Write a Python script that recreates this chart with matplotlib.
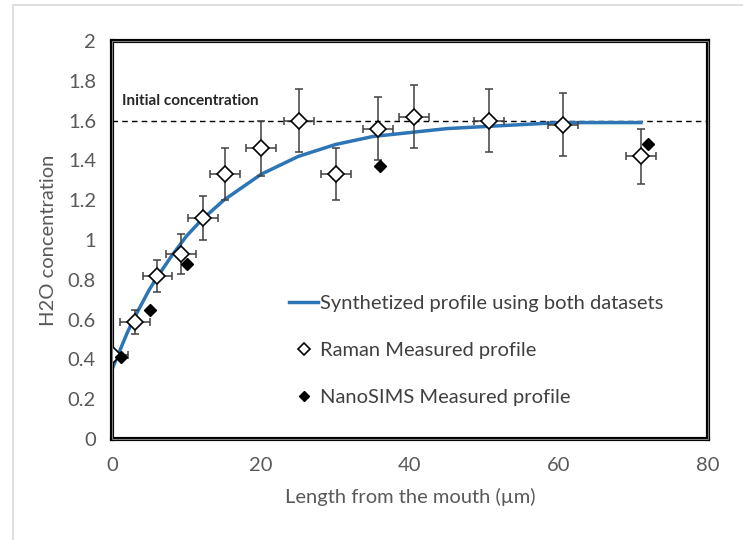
import matplotlib
matplotlib.use("Agg")
import matplotlib.pyplot as plt
from matplotlib.patches import Rectangle
from matplotlib.lines import Line2D

plt.rcParams['font.family'] = ['Lato', 'DejaVu Sans']

# Raman measured profile (open diamonds) with error bars
raman_x = [0.2, 3.1, 6.1, 9.3, 12.2, 15.2, 20.0, 25.1, 30.1, 35.7, 40.5, 50.6, 60.5, 71.0]
raman_y = [0.42, 0.59, 0.82, 0.93, 1.11, 1.33, 1.46, 1.60, 1.33, 1.56, 1.62, 1.60, 1.58, 1.42]
raman_xerr = [2.0, 2.0, 2.0, 2.0, 2.0, 2.0, 2.0, 2.0, 2.0, 2.0, 2.0, 2.0, 2.0, 2.0]
raman_yerr = [0.02, 0.06, 0.08, 0.10, 0.11, 0.13, 0.14, 0.16, 0.13, 0.16, 0.16, 0.16, 0.16, 0.14]

# NanoSIMS measured profile (filled diamonds)
sims_x = [1.2, 5.1, 10.0, 36.0, 71.9]
sims_y = [0.41, 0.65, 0.88, 1.37, 1.48]

# Synthesized diffusion profile
synth_x = [0, 1, 2, 3, 4, 5, 6, 8, 10, 12, 15, 20, 25, 30, 35, 40, 45, 50, 55, 60, 65, 71]
synth_y = [0.35, 0.44, 0.53, 0.61, 0.68, 0.75, 0.81, 0.92, 1.02, 1.10, 1.20, 1.33, 1.42, 1.48, 1.52,
           1.54, 1.56, 1.57, 1.58, 1.59, 1.59, 1.59]

initial_conc = 1.6

x_ticks = [0, 20, 40, 60, 80]
y_ticks = [0, 0.2, 0.4, 0.6, 0.8, 1.0, 1.2, 1.4, 1.6, 1.8, 2.0]
y_tick_labels = ['0', '0.2', '0.4', '0.6', '0.8', '1', '1.2', '1.4', '1.6', '1.8', '2']

W, H = 743, 540
fig = plt.figure(figsize=(W / 100, H / 100), dpi=100)
fig.patch.set_facecolor('white')

# light chart-area border
fig.add_artist(Rectangle((13 / W, -0.05), 1.2, 1 - 5 / H + 0.05, transform=fig.transFigure,
                         fill=False, edgecolor='#d9d9d9', linewidth=1.2))

ax = fig.add_axes([112 / W, 1 - 439 / H, (708 - 112) / W, (439 - 41) / H])

text_gray = '#595959'

ax.axhline(initial_conc, color='black', linestyle=(0, (4, 3)), linewidth=1.0, zorder=1)
ax.text(1.4, 1.70, 'Initial concentration', fontsize=11, fontweight='bold',
        color='#262626', va='center', ha='left')

ax.plot(synth_x, synth_y, color='#2e75b6', linewidth=2.5, zorder=2)

ax.errorbar(raman_x, raman_y, xerr=raman_xerr, yerr=raman_yerr, fmt='none',
            ecolor='#404040', elinewidth=1.1, capsize=3, capthick=1.1, zorder=3)
ax.plot(raman_x, raman_y, linestyle='none', marker='D', markersize=8.5,
        markerfacecolor='white', markeredgecolor='black', markeredgewidth=1.2, zorder=4)
ax.plot(sims_x, sims_y, linestyle='none', marker='D', markersize=6.5,
        markerfacecolor='black', markeredgecolor='black', zorder=5)

ax.set_xlim(0, 80)
ax.set_ylim(0, 2)
ax.set_xticks(x_ticks)
ax.set_yticks(y_ticks)
ax.set_yticklabels(y_tick_labels)
ax.tick_params(length=0, labelsize=14.5, colors=text_gray)
ax.tick_params(axis='y', pad=11.5)
ax.tick_params(axis='x', pad=13)

# double-line plot frame: heavy black outer edge with a thin gray inner rule
for s in ax.spines.values():
    s.set_linewidth(3)
    s.set_color('black')
ax.add_patch(Rectangle((0, 0), 1, 1, transform=ax.transAxes, fill=False,
                       edgecolor='#7f7f7f', linewidth=0.8, zorder=6, clip_on=False))

ax.set_xlabel('Length from the mouth (µm)', fontsize=14.5, color=text_gray, labelpad=10)
ax.set_ylabel('H2O concentration', fontsize=14.5, color=text_gray, labelpad=8)

handles = [
    Line2D([], [], color='#2e75b6', linewidth=2.5),
    Line2D([], [], linestyle='none', marker='D', markersize=6.5, markerfacecolor='white',
           markeredgecolor='black', markeredgewidth=1.2),
    Line2D([], [], linestyle='none', marker='D', markersize=5.5, markerfacecolor='black',
           markeredgecolor='black'),
]
labels = ['Synthetized profile using both datasets', 'Raman Measured profile',
          'NanoSIMS Measured profile']
leg = ax.legend(handles, labels, loc='upper left', bbox_to_anchor=(0.267, 0.407), frameon=False,
                fontsize=14.5, labelspacing=1.49, handlelength=1.44, handletextpad=0.1,
                labelcolor='#404040')

fig.savefig('out.png', dpi=100)
